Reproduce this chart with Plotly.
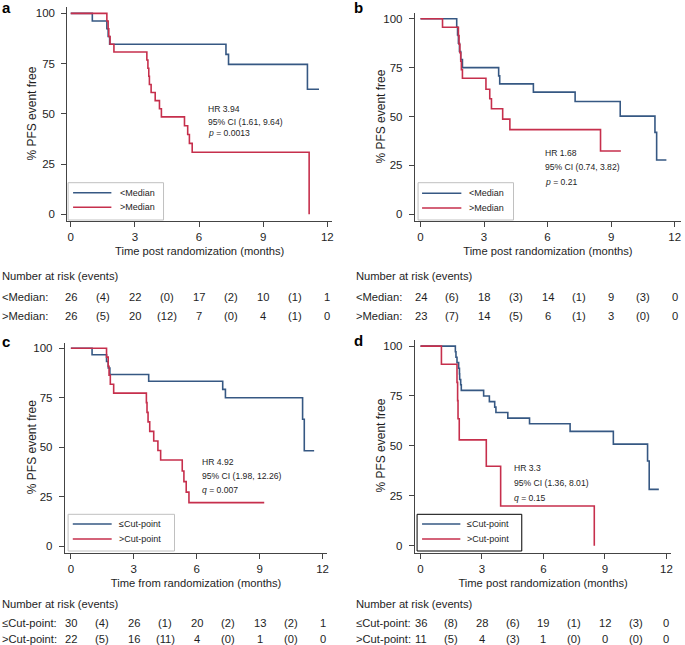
import plotly.graph_objects as go

# ---- Kaplan-Meier step data (months, % event free) ----
# panel a
a_low_t = [0, 1.01, 1.69, 1.75, 1.82, 7.26, 7.38, 11.07, 11.61]
a_low_s = [100, 96.2, 92.3, 88.5, 84.6, 79.6, 74.6, 62.2, 62.2]
a_high_t = [0, 1.69, 1.75, 1.78, 1.84, 2.02, 3.56, 3.61, 3.65, 3.68, 3.76, 3.95, 4.15, 4.24,
            5.32, 5.47, 5.55, 5.68, 11.15]
a_high_s = [100, 96.2, 92.3, 88.5, 84.6, 80.8, 76.8, 72.7, 68.7, 64.6, 60.6, 56.6, 52.5, 48.5,
            44.1, 39.7, 35.3, 30.9, 0]

# panel b
b_low_t = [0, 1.71, 1.75, 1.79, 1.84, 1.90, 1.98, 3.69, 3.74, 5.33, 7.30, 9.43, 11.07, 11.15, 11.61]
b_low_s = [100, 95.8, 91.7, 87.5, 83.3, 79.2, 75.0, 70.8, 66.7, 62.5, 57.7, 50.2, 41.9, 27.8, 27.8]
b_high_t = [0, 1.04, 1.79, 1.82, 1.86, 1.90, 1.93, 1.98, 3.09, 3.27, 3.35, 3.88, 4.22, 8.50, 9.46]
b_high_s = [100, 95.7, 91.3, 87.0, 82.6, 78.3, 73.9, 69.6, 64.0, 59.1, 54.0, 48.7, 43.3, 32.4, 32.4]

# panel c
c_low_t = [0, 1.01, 1.70, 1.78, 1.86, 3.71, 7.24, 7.37, 11.05, 11.13, 11.60]
c_low_s = [100, 96.7, 93.3, 90.0, 86.7, 83.3, 79.2, 75.0, 64.1, 48.2, 48.2]
c_high_t = [0, 1.70, 1.78, 1.82, 1.88, 2.04, 3.60, 3.63, 3.68, 3.76, 3.95, 4.15, 4.28,
            5.31, 5.39, 5.50, 5.63, 9.22]
c_high_s = [100, 95.5, 90.9, 86.4, 81.8, 77.3, 72.5, 67.6, 62.8, 58.0, 53.1, 48.3, 43.5,
            38.0, 32.6, 27.3, 22.0, 22.0]

# panel d
d_low_t = [0, 1.70, 1.73, 1.78, 1.86, 1.90, 1.91, 1.96, 1.99, 3.08, 3.36, 3.62, 3.68, 4.26,
           5.32, 7.30, 9.41, 11.08, 11.16, 11.63]
d_low_s = [100, 97.2, 94.4, 91.7, 88.9, 86.1, 83.3, 80.6, 77.8, 75.0, 72.2, 69.4, 66.7, 63.9,
           61.1, 57.3, 50.9, 42.4, 28.2, 28.2]
d_high_t = [0, 1.02, 1.78, 1.81, 1.83, 1.89, 3.21, 3.91, 8.48]
d_high_s = [100, 90.9, 81.8, 72.7, 63.6, 53.0, 39.8, 19.9, 0]

# ---- number at risk (events) ----
risk_times = [0, 3, 6, 9, 12]
event_times = [1.5, 4.5, 7.5, 10.5]
a_risk = [[26, 22, 17, 10, 1], [26, 20, 7, 4, 0]]
a_events = [[4, 0, 2, 1], [5, 12, 0, 1]]
b_risk = [[24, 18, 14, 9, 0], [23, 14, 6, 3, 0]]
b_events = [[6, 3, 1, 3], [7, 5, 1, 0]]
c_risk = [[30, 26, 20, 13, 1], [22, 16, 4, 1, 0]]
c_events = [[4, 1, 2, 2], [5, 11, 0, 0]]
d_risk = [[36, 28, 19, 12, 0], [11, 4, 1, 0, 0]]
d_events = [[8, 6, 1, 3], [5, 3, 0, 0]]

median_names = ["&lt;Median", "&gt;Median"]
cut_names = ["≤Cut-point", "&gt;Cut-point"]

a_stats = ["HR 3.94", "95% CI (1.61, 9.64)", "<i>p</i> = 0.0013"]
b_stats = ["HR 1.68", "95% CI (0.74, 3.82)", "<i>p</i> = 0.21"]
c_stats = ["HR 4.92", "95% CI (1.98, 12.26)", "<i>q</i> = 0.007"]
d_stats = ["HR 3.3", "95% CI (1.36, 8.01)", "<i>q</i> = 0.15"]

BLUE = "#365883"
RED = "#c62f4c"
INK = "#1e1e1e"
AXIS = "#444444"
FONT = "Liberation Sans, Arial, sans-serif"
W, H = 685, 645


def fx(px):
    return px / W


def fy(py):
    return 1 - py / H


# layout of each panel, in pixels of the 685x645 picture
panels = [
    dict(tag="a", low=(a_low_t, a_low_s), high=(a_high_t, a_high_s), names=median_names,
         stats=a_stats, stat_x=6.34, stat_y=[52.4, 45.7, 40.7], risk=a_risk, events=a_events,
         xtitle="Time post randomization (months)",
         xdom=(67.5, 333), xr=[-0.16, 12.22], ydom=(7.3, 221), yr=[-3.3, 103],
         ytitle=(31.7, 114), lab=(0, 7), tab_x=0, tab_y=[276, 297, 316],
         box=(68.3, 182.7, 164, 220), items=(192.7, 207.3), swatch=(73.3, 111.7, 118.3),
         boxcol="#c0c0c0"),
    dict(tag="b", low=(b_low_t, b_low_s), high=(b_high_t, b_high_s), names=median_names,
         stats=b_stats, stat_x=5.77, stat_y=[31.5, 24.3, 16.7], risk=b_risk, events=b_events,
         xtitle="Time post randomization (months)",
         xdom=(416, 683), xr=[-0.27, 12.3], ydom=(12.9, 221), yr=[-3.4, 103],
         ytitle=(381.7, 117), lab=(353, 7), tab_x=355, tab_y=[276, 297, 316],
         box=(419.3, 182.7, 515, 220), items=(193.3, 208), swatch=(423.3, 462.7, 468.3),
         boxcol="#c0c0c0"),
    dict(tag="c", low=(c_low_t, c_low_s), high=(c_high_t, c_high_s), names=cut_names,
         stats=c_stats, stat_x=6.18, stat_y=[42.7, 35.5, 28.2], risk=c_risk, events=c_events,
         xtitle="Time from randomization (months)",
         xdom=(65, 328.3), xr=[-0.29, 12.23], ydom=(342.5, 552.7), yr=[-3.3, 102.9],
         ytitle=(32.3, 447), lab=(0, 341), tab_x=0, tab_y=[604, 623, 639],
         box=(68.3, 514.3, 175, 551), items=(524, 539), swatch=(73, 112, 117),
         boxcol="#c0c0c0"),
    dict(tag="d", low=(d_low_t, d_low_s), high=(d_high_t, d_high_s), names=cut_names,
         stats=d_stats, stat_x=4.46, stat_y=[39.1, 31.3, 24.0], risk=d_risk, events=d_events,
         xtitle="Time post randomization (months)",
         xdom=(416, 673.3), xr=[-0.28, 12.24], ydom=(340.1, 552.7), yr=[-3.5, 103],
         ytitle=(381.7, 446), lab=(353, 340), tab_x=355, tab_y=[604, 623, 639],
         box=(418.3, 514.3, 523.3, 551), items=(524, 539), swatch=(423.3, 461.7, 466.7),
         boxcol="#000000"),
]

fig = go.Figure()
annotations = []
shapes = []
layout = {}

for i, p in enumerate(panels, start=1):
    sfx = "" if i == 1 else str(i)
    xa, ya = "x" + sfx, "y" + sfx

    for (t, s), name, color in zip((p["low"], p["high"]), p["names"], (BLUE, RED)):
        fig.add_trace(go.Scatter(
            x=t, y=s, mode="lines", name=name, xaxis=xa, yaxis=ya, showlegend=False,
            line=dict(color=color, width=1.6, shape="hv"),
        ))

    layout["xaxis" + sfx] = dict(
        domain=[fx(p["xdom"][0]), fx(p["xdom"][1])], range=p["xr"], anchor=ya,
        tickvals=risk_times, ticks="outside", ticklen=5, tickcolor=AXIS,
        showline=True, linecolor=AXIS, linewidth=1, showgrid=False, zeroline=False,
        tickfont=dict(size=11.5, color=INK),
        title=dict(text=p["xtitle"], font=dict(size=11.2, color=INK), standoff=5),
    )
    layout["yaxis" + sfx] = dict(
        domain=[fy(p["ydom"][1]), fy(p["ydom"][0])], range=p["yr"], anchor=xa,
        tickvals=[0, 25, 50, 75, 100], ticks="outside", ticklen=5, tickcolor=AXIS,
        showline=True, linecolor=AXIS, linewidth=1, showgrid=False, zeroline=False,
        tickfont=dict(size=11.5, color=INK), ticklabelstandoff=4,
    )

    # y axis title
    annotations.append(dict(text="% PFS event free", x=fx(p["ytitle"][0]), y=fy(p["ytitle"][1]),
                            xref="paper", yref="paper", xanchor="center", yanchor="middle",
                            textangle=-90, showarrow=False, font=dict(size=12, color=INK)))
    # panel letter
    annotations.append(dict(text="<b>" + p["tag"] + "</b>", x=fx(p["lab"][0]), y=fy(p["lab"][1]),
                            xref="paper", yref="paper", xanchor="left", yanchor="middle",
                            showarrow=False, font=dict(size=15, color="black")))
    # HR / CI / p text
    for txt, yy in zip(p["stats"], p["stat_y"]):
        annotations.append(dict(text=txt, x=p["stat_x"], y=yy, xref=xa, yref=ya,
                                xanchor="left", yanchor="middle", showarrow=False,
                                font=dict(size=8.6, color=INK)))

    # legend box
    bx0, by0, bx1, by1 = p["box"]
    shapes.append(dict(type="rect", xref="paper", yref="paper",
                       x0=fx(bx0), x1=fx(bx1), y0=fy(by1), y1=fy(by0),
                       fillcolor="white", line=dict(color=p["boxcol"], width=1)))
    sx0, sx1, tx = p["swatch"]
    for name, color, iy in zip(p["names"], (BLUE, RED), p["items"]):
        shapes.append(dict(type="line", xref="paper", yref="paper",
                           x0=fx(sx0), x1=fx(sx1), y0=fy(iy), y1=fy(iy),
                           line=dict(color=color, width=1.6)))
        annotations.append(dict(text=name, x=fx(tx), y=fy(iy), xref="paper", yref="paper",
                                xanchor="left", yanchor="middle", showarrow=False,
                                font=dict(size=9, color=INK)))

    # number at risk table
    ty = p["tab_y"]
    annotations.append(dict(text="Number at risk (events)", x=fx(p["tab_x"]), y=fy(ty[0]),
                            xref="paper", yref="paper", xanchor="left", yanchor="middle",
                            showarrow=False, font=dict(size=11.2, color=INK)))
    for row, (name, nums, evs) in enumerate(zip(p["names"], p["risk"], p["events"])):
        yy = fy(ty[row + 1])
        annotations.append(dict(text=name + ":", x=fx(p["tab_x"]), y=yy, xref="paper", yref="paper",
                                xanchor="left", yanchor="middle", showarrow=False,
                                font=dict(size=11.2, color=INK)))
        for t, n in zip(risk_times, nums):
            annotations.append(dict(text=str(n), x=t, y=yy, xref=xa, yref="paper",
                                    xanchor="center", yanchor="middle", showarrow=False,
                                    font=dict(size=11.2, color=INK)))
        for t, e in zip(event_times, evs):
            annotations.append(dict(text="(%d)" % e, x=t, y=yy, xref=xa, yref="paper",
                                    xanchor="center", yanchor="middle", showarrow=False,
                                    font=dict(size=11.2, color=INK)))

fig.update_layout(
    width=W, height=H,
    margin=dict(l=0, r=0, t=0, b=0),
    paper_bgcolor="white", plot_bgcolor="white",
    font=dict(family=FONT, color=INK),
    showlegend=False,
    annotations=annotations,
    shapes=shapes,
    **layout,
)

# the page body has a default 8px margin; drop it so the figure fills the window
fig.write_html("out.html", config={"displayModeBar": False},
               post_script="document.body.style.margin='0';")
